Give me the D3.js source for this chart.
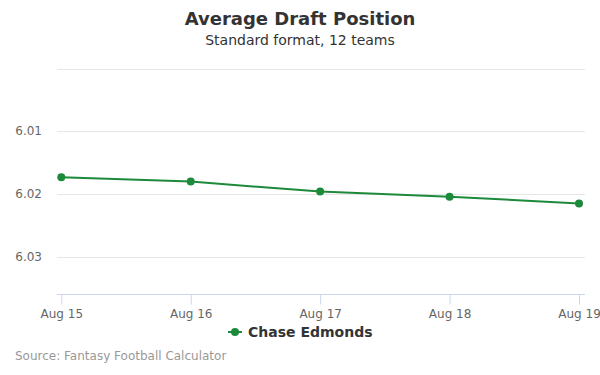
<!DOCTYPE html>
<html>
<head>
<meta charset="utf-8">
<script src="https://cdn.jsdelivr.net/npm/d3@7"></script>
<style>
  body { margin: 0; background: #fff; }
  svg { font-family: "DejaVu Sans", sans-serif; display: block; }
</style>
</head>
<body>
<div id="chart"></div>
<script>
const dates = ["Aug 15", "Aug 16", "Aug 17", "Aug 18", "Aug 19"];
const adp = [6.0173, 6.0180, 6.0196, 6.0204, 6.0215];
const yTicks = [6.00, 6.01, 6.02, 6.03];
const yTickLabels = ["", "6.01", "6.02", "6.03"];
const playerName = "Chase Edmonds";

const W = 600, H = 375;
const plot = { left: 57, right: 585, top: 68.5, bottom: 294 };
const lineColor = "#1d8a3b";

const svg = d3.select("#chart")
  .append("svg")
  .attr("width", W)
  .attr("height", H);

const x = d3.scalePoint()
  .domain(dates)
  .range([61.3, 579]);

const y = d3.scaleLinear()
  .domain([6.00, 6.0359])
  .range([plot.top, plot.bottom]);

// gridlines
svg.append("g")
  .selectAll("line")
  .data(yTicks)
  .enter()
  .append("line")
  .attr("x1", plot.left)
  .attr("x2", plot.right)
  .attr("y1", d => Math.round(y(d)) + 0.5)
  .attr("y2", d => Math.round(y(d)) + 0.5)
  .attr("stroke", "#e6e6e6")
  .attr("stroke-width", 1);

// y labels
svg.append("g")
  .selectAll("text")
  .data(yTicks)
  .enter()
  .append("text")
  .attr("x", 42)
  .attr("y", d => y(d) + 4)
  .attr("text-anchor", "end")
  .style("font-size", "12px")
  .style("fill", "#666")
  .text((d, i) => yTickLabels[i]);

// x axis
const xAxis = svg.append("g")
  .attr("transform", `translate(0,${Math.round(plot.bottom) + 0.5})`)
  .call(d3.axisBottom(x).tickSize(10).tickPadding(5).tickSizeOuter(0));

xAxis.select(".domain")
  .attr("d", `M${plot.left},0H${plot.right}`)
  .attr("stroke", "#ccd6eb");
xAxis.selectAll(".tick line").attr("stroke", "#ccd6eb");
xAxis.selectAll(".tick text")
  .style("font-family", "DejaVu Sans, sans-serif")
  .style("font-size", "12px")
  .style("fill", "#666");

// series line
const line = d3.line()
  .x((d, i) => x(dates[i]))
  .y(d => y(d));

svg.append("path")
  .datum(adp)
  .attr("d", line)
  .attr("fill", "none")
  .attr("stroke", lineColor)
  .attr("stroke-width", 2);

svg.selectAll(".pt")
  .data(adp)
  .enter()
  .append("circle")
  .attr("class", "pt")
  .attr("cx", (d, i) => x(dates[i]))
  .attr("cy", d => y(d))
  .attr("r", 4)
  .attr("fill", lineColor);

// title
svg.append("text")
  .attr("x", W / 2)
  .attr("y", 25)
  .attr("text-anchor", "middle")
  .style("font-size", "18px")
  .style("font-weight", "bold")
  .style("fill", "#333")
  .text("Average Draft Position");

svg.append("text")
  .attr("x", W / 2)
  .attr("y", 45)
  .attr("text-anchor", "middle")
  .style("font-size", "14px")
  .style("fill", "#333")
  .text("Standard format, 12 teams");

// legend
const legend = svg.append("g")
  .attr("transform", "translate(228,332)");

legend.append("line")
  .attr("x1", 0)
  .attr("x2", 14)
  .attr("stroke", lineColor)
  .attr("stroke-width", 2);

legend.append("circle")
  .attr("cx", 7)
  .attr("r", 4)
  .attr("fill", lineColor);

legend.append("text")
  .attr("x", 20)
  .attr("y", 5)
  .style("font-size", "14px")
  .style("font-weight", "bold")
  .style("fill", "#333")
  .text(playerName);

// credits
svg.append("text")
  .attr("x", 15)
  .attr("y", 360)
  .style("font-size", "12px")
  .style("fill", "#999")
  .text("Source: Fantasy Football Calculator");
</script>
</body>
</html>
